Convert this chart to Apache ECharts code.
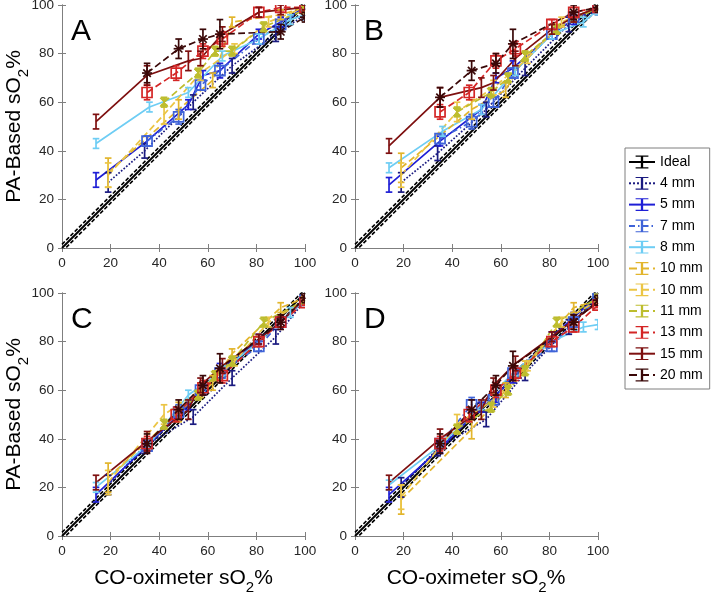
<!DOCTYPE html>
<html><head><meta charset="utf-8">
<script src="https://cdn.jsdelivr.net/npm/echarts@6/dist/echarts.min.js"></script>
<style>html,body{margin:0;padding:0;background:#fff}#c{width:711px;height:598px}</style>
</head><body><div id="c"></div>
<script>
// ---------- data ----------
const seriesNames = ['4 mm','5 mm','7 mm','8 mm','10 mm','10 mm ','11 mm','13 mm','15 mm','20 mm'];
const panelLabels = ['A','B','C','D'];
const axisTicks = [0, 20, 40, 60, 80, 100];
const idealX = [0, 100];
const idealOffset = 1.5;

// CO-oximeter sO2 (x) for each series
const x4   = [19, 34, 54, 70, 88, 100];
const x5   = [14, 35, 52, 58, 65, 81, 90, 100];
const x7   = [35, 48, 57, 65, 81, 90, 100];
const x8   = [14, 36, 52, 66, 81, 94, 100];
const x10a = [19, 48, 62, 70, 90, 100];
const x10b = [19, 42, 57, 71, 85, 100];
const x11  = [42, 56, 63, 70, 83, 100];
const x13  = [35, 47, 58, 66, 81, 90, 100];
const x15  = [14, 35, 52, 57, 66, 81, 90, 100];
const x20  = [35, 48, 58, 65, 90, 100];

// error bar half-lengths
const e4   = [4, 3, 3, 3, 3, 2];
const e5   = [3, 2, 2, 2, 3, 2, 2, 1];
const e7   = [2, 3, 2, 2, 2, 2, 1];
const e8   = [2, 2, 2, 2, 2, 2, 2];
const e10a = [6, 4, 3, 2, 2, 1];
const e10b = [5, 4, 3, 2, 2, 1];
const e11  = [2, 2, 2, 2, 2, 1];
const e13  = [3, 3, 3, 3, 2, 2, 1];
const e15  = [3, 4, 4, 3, 3, 2, 2, 1];
const e20  = [4, 4, 4, 6, 3, 2];

// Panel A: PA-based sO2
const A4   = [27, 40, 60, 75, 88, 96];
const A5   = [28, 44, 59, 71, 73, 88, 93, 99];
const A7   = [44, 54, 67, 73, 86, 92, 99];
const A8   = [43, 58, 64, 79, 86, 94, 96];
const A10a = [31, 57, 69, 93, 96, 99];
const A10b = [30, 55, 72, 82, 93, 99];
const A11  = [60, 72, 81, 81, 91, 98];
const A13  = [64, 72, 81, 86, 97, 99, 99];
const A15  = [52, 71, 77, 78, 88, 97, 98, 99];
const A20  = [72, 82, 86, 88, 89, 95];
// Panel B
const B4   = [27, 39, 57, 74, 92, 98];
const B5   = [26, 44, 57, 70, 74, 88, 94, 99];
const B7   = [45, 52, 60, 72, 88, 95, 99];
const B8   = [33, 48, 57, 73, 88, 93, 98];
const B10a = [33, 57, 65, 79, 95, 99];
const B10b = [30, 56, 66, 78, 93, 99];
const B11  = [56, 64, 70, 79, 90, 99];
const B13  = [56, 64, 77, 82, 92, 97, 99];
const B15  = [42, 62, 66, 68, 78, 90, 95, 99];
const B20  = [62, 73, 76, 84, 97, 99];
// Panel C
const C4   = [21, 37, 49, 65, 82, 97];
const C5   = [17, 37, 54, 60, 68, 81, 88, 98];
const C7   = [37, 51, 60, 67, 78, 88, 97];
const C8   = [20, 38, 58, 68, 80, 92, 97];
const C10a = [24, 51, 63, 75, 94, 98];
const C10b = [22, 50, 60, 72, 88, 97];
const C11  = [46, 58, 66, 72, 88, 97];
const C13  = [38, 50, 61, 66, 80, 88, 96];
const C15  = [22, 39, 52, 62, 70, 81, 88, 98];
const C20  = [38, 52, 62, 69, 88, 98];
// Panel D
const D4   = [20, 36, 48, 67, 86, 98];
const D5   = [17, 36, 53, 57, 66, 82, 90, 99];
const D7   = [38, 54, 56, 67, 78, 88, 98];
const D8   = [21, 38, 54, 68, 80, 86, 87];
const D10a = [15, 44, 60, 70, 94, 97];
const D10b = [16, 46, 56, 70, 88, 97];
const D11  = [44, 53, 60, 68, 88, 98];
const D13  = [38, 50, 60, 67, 80, 86, 95];
const D15  = [22, 40, 52, 62, 71, 82, 89, 96];
const D20  = [38, 52, 62, 70, 88, 97];

// ---------- styles ----------
const xs = [x4, x5, x7, x8, x10a, x10b, x11, x13, x15, x20];
const es = [e4, e5, e7, e8, e10a, e10b, e11, e13, e15, e20];
const panelYs = [
  [A4, A5, A7, A8, A10a, A10b, A11, A13, A15, A20],
  [B4, B5, B7, B8, B10a, B10b, B11, B13, B15, B20],
  [C4, C5, C7, C8, C10a, C10b, C11, C13, C15, C20],
  [D4, D5, D7, D8, D10a, D10b, D11, D13, D15, D20]
];
const colors = ['#1b1b80','#1f1fd6','#3f63d8','#6ecdf4','#e2b52c','#ebc545','#bdbd2e','#d42626','#7e1010','#3a0808'];
const lineTypes = ['dotted','solid',[6,3,1.5,3],'solid','dashed','dashed','dashed','dashed','solid','dashed'];
const markers = ['none','none','square','none','none','none','hourglass','square','none','asterisk'];
const gridPos = [[62,5],[355,5],[62,293],[355,293]];
const GW = 243, GH = 243;
const FONT = 'Arial, "Liberation Sans", Helvetica, sans-serif';
const TXT = '#262626';
const AX = '#7f7f7f';
const IBEAM = 'path://M0,0H10V1.8H5.9V18.2H10V20H0V18.2H4.1V1.8H0Z';

function makeRender(color, marker) {
  return function (params, api) {
    const x = api.value(0), y = api.value(1), lo = api.value(2), hi = api.value(3);
    const p = api.coord([x, y]), pl = api.coord([x, lo]), ph = api.coord([x, hi]);
    const c = 3.3;
    const st = { stroke: color, lineWidth: 1.7, fill: null };
    const ch = [
      { type: 'line', shape: { x1: ph[0], y1: ph[1], x2: pl[0], y2: pl[1] }, style: st },
      { type: 'line', shape: { x1: ph[0] - c, y1: ph[1], x2: ph[0] + c, y2: ph[1] }, style: st },
      { type: 'line', shape: { x1: pl[0] - c, y1: pl[1], x2: pl[0] + c, y2: pl[1] }, style: st }
    ];
    if (marker === 'square') {
      ch.push({ type: 'rect', shape: { x: p[0] - 5, y: p[1] - 5, width: 10, height: 10 },
        style: { stroke: color, lineWidth: 1.7, fill: 'none' } });
    } else if (marker === 'asterisk') {
      const r = 5;
      ch.push({ type: 'line', shape: { x1: p[0] - r, y1: p[1], x2: p[0] + r, y2: p[1] }, style: st });
      ch.push({ type: 'line', shape: { x1: p[0] - r * .75, y1: p[1] - r * .75, x2: p[0] + r * .75, y2: p[1] + r * .75 }, style: st });
      ch.push({ type: 'line', shape: { x1: p[0] - r * .75, y1: p[1] + r * .75, x2: p[0] + r * .75, y2: p[1] - r * .75 }, style: st });
    } else if (marker === 'hourglass') {
      const r = 4;
      ch.push({ type: 'polygon', shape: { points: [[p[0] - r, p[1] - r], [p[0] + r, p[1] - r], [p[0] - r, p[1] + r], [p[0] + r, p[1] + r]] },
        style: { fill: color, stroke: color, lineWidth: 1 } });
    }
    return { type: 'group', children: ch };
  };
}

const grid = [], xAxis = [], yAxis = [], series = [], graphic = [];
const axisBase = (show, pos) => ({
  type: 'value', min: 0, max: 100, interval: 20, position: pos,
  axisLine: { show: true, lineStyle: { color: AX, width: 1 } },
  axisTick: { show: true, inside: true, length: 4, lineStyle: { color: AX } },
  splitLine: { show: false },
  axisLabel: { show: show, fontSize: 13.5, fontFamily: FONT, color: TXT, margin: 8 }
});

gridPos.forEach((g, i) => {
  grid.push({ left: g[0], top: g[1], width: GW, height: GH, outerBoundsMode: 'none', containLabel: false });
  xAxis.push(Object.assign(axisBase(true, 'bottom'), { gridIndex: i }));
  xAxis.push(Object.assign(axisBase(false, 'top'), { gridIndex: i }));
  yAxis.push(Object.assign(axisBase(true, 'left'), { gridIndex: i }));
  yAxis.push(Object.assign(axisBase(false, 'right'), { gridIndex: i }));
  const xi = 2 * i, yi = 2 * i;
  series.push({
    name: 'Ideal', type: 'line', xAxisIndex: xi, yAxisIndex: yi, z: 1,
    data: idealX.map(v => [v, v]), showSymbol: false, symbol: IBEAM, symbolKeepAspect: true,
    lineStyle: { color: '#000', width: 2, type: 'solid' }, itemStyle: { color: '#000' },
    animation: false, silent: true
  });
  [-1, 1].forEach(s => series.push({
    name: 'IdealBand', type: 'line', xAxisIndex: xi, yAxisIndex: yi, z: 1,
    data: idealX.map(v => [v, v + s * idealOffset]), showSymbol: false,
    lineStyle: { color: '#000', width: 1.6, type: [4, 2] }, animation: false, silent: true
  }));
  seriesNames.forEach((nm, k) => {
    const ys = panelYs[i][k];
    const xv = xs[k];
    series.push({
      name: nm, type: 'line', xAxisIndex: xi, yAxisIndex: yi, z: 2,
      data: xv.map((x, j) => [x, ys[j]]), showSymbol: false,
      symbol: IBEAM, symbolKeepAspect: true,
      lineStyle: { color: colors[k], width: 1.7, type: lineTypes[k] },
      itemStyle: { color: colors[k] }, animation: false, silent: true
    });
    series.push({
      name: nm + '_err', type: 'custom', xAxisIndex: xi, yAxisIndex: yi, z: 3, clip: true,
      data: xv.map((x, j) => [x, ys[j], ys[j] - es[k][j], ys[j] + es[k][j]]),
      renderItem: makeRender(colors[k], markers[k]), animation: false, silent: true
    });
  });
  graphic.push({
    type: 'text', x: g[0] + 9, y: g[1] + 27,
    style: { text: panelLabels[i], fontSize: 30, fontFamily: FONT, fill: '#000', align: 'left', verticalAlign: 'middle' }
  });
});

const richLbl = {
  n: { fontSize: 21, fontFamily: FONT, color: TXT, verticalAlign: 'top', lineHeight: 23 },
  s: { fontSize: 15, fontFamily: FONT, color: TXT, verticalAlign: 'top', padding: [13, 0, 0, 0], lineHeight: 17 }
};
[183.5, 476].forEach(cx => graphic.push({
  type: 'text', x: cx, y: 579,
  style: { text: '{n|CO-oximeter sO}{s|2}{n|%}', rich: richLbl, align: 'center', verticalAlign: 'middle' }
}));
[126.5, 414.5].forEach(cy => graphic.push({
  type: 'text', x: 15, y: cy, rotation: Math.PI / 2,
  style: { text: '{n|PA-Based sO}{s|2}{n|%}', rich: richLbl, align: 'center', verticalAlign: 'middle' }
}));

const chart = echarts.init(document.getElementById('c'), null, { renderer: 'canvas' });
chart.setOption({
  backgroundColor: '#fff',
  animation: false,
  grid, xAxis, yAxis, series, graphic,
  legend: {
    orient: 'vertical', left: 625, top: 148,
    itemWidth: 26, itemHeight: 16, itemGap: 5.3,
    padding: [6, 3, 6, 3],
    borderColor: AX, borderWidth: 1, backgroundColor: '#fff',
    textStyle: { fontSize: 14, fontFamily: FONT, color: '#000', lineHeight: 16 },
    selectedMode: false,
    data: ['Ideal'].concat(seriesNames)
  }
});
</script></body></html>
